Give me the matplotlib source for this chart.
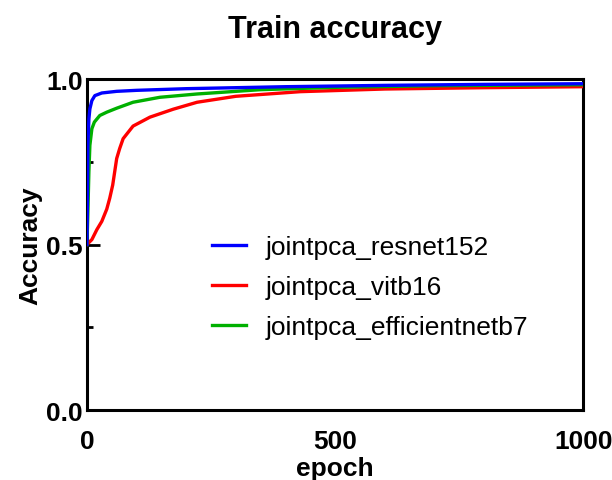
import numpy as np
import matplotlib.pyplot as plt

plt.rcParams['font.family'] = ['Liberation Sans', 'DejaVu Sans']

# values (epoch, accuracy)
resnet_epoch = [0, 1, 2, 4, 6, 10, 16, 30, 60, 100, 200, 400, 600, 800, 1000]
resnet_acc = [0.50, 0.62, 0.80, 0.88, 0.91, 0.935, 0.95, 0.958, 0.963, 0.966, 0.971, 0.977, 0.981, 0.984, 0.986]

vit_epoch = [0, 10, 20, 30, 40, 46, 52, 56, 60, 66, 73, 93, 127, 174, 222, 300, 430, 600, 800, 1000]
vit_acc = [0.50, 0.515, 0.545, 0.57, 0.607, 0.64, 0.68, 0.72, 0.76, 0.79, 0.82, 0.858, 0.885, 0.909, 0.93,
           0.948, 0.962, 0.970, 0.974, 0.977]

eff_epoch = [0, 2, 4, 6, 10, 15, 26, 40, 60, 93, 147, 222, 350, 500, 700, 1000]
eff_acc = [0.50, 0.60, 0.72, 0.80, 0.85, 0.87, 0.89, 0.90, 0.912, 0.93, 0.945, 0.955, 0.968, 0.975, 0.980, 0.983]

fig = plt.figure(figsize=(6.12, 4.81), dpi=100)
ax = fig.add_axes([0.142, 0.1455, 0.811, 0.688])

ax.plot(resnet_epoch, resnet_acc, color='#0000ff', lw=2.4, label='jointpca_resnet152', zorder=4)
ax.plot(vit_epoch, vit_acc, color='#ff0000', lw=2.4, label='jointpca_vitb16', zorder=3)
ax.plot(eff_epoch, eff_acc, color='#00b000', lw=2.4, label='jointpca_efficientnetb7', zorder=3)

ax.set_xlim(0, 1000)
ax.set_ylim(0, 1.0)
ax.set_xticks([0, 500, 1000])
ax.set_yticks([0.0, 0.5, 1.0])
ax.set_yticks([0.25, 0.75], minor=True)
ax.set_yticklabels(['0.0', '0.5', '1.0'])

for s in ax.spines.values():
    s.set_linewidth(2.2)

ax.tick_params(axis='x', length=0, pad=14, labelsize=19)
ax.tick_params(axis='y', which='major', direction='in', length=9, width=2, pad=3, labelsize=19)
ax.tick_params(axis='y', which='minor', direction='in', length=4, width=2)
for lab in ax.get_xticklabels() + ax.get_yticklabels():
    lab.set_fontweight('bold')

ax.set_xlabel('epoch', fontsize=19, fontweight='bold', labelpad=2)
ax.set_ylabel('Accuracy', fontsize=19, fontweight='bold', labelpad=3)
ax.set_title('Train accuracy', fontsize=22, fontweight='bold', pad=30)

ax.legend(loc='center left', bbox_to_anchor=(0.252, 0.372), frameon=False, fontsize=19,
          handlelength=1.3, handletextpad=0.75, labelspacing=0.6, borderpad=0, borderaxespad=0)

fig.savefig('out.png', dpi=100)
